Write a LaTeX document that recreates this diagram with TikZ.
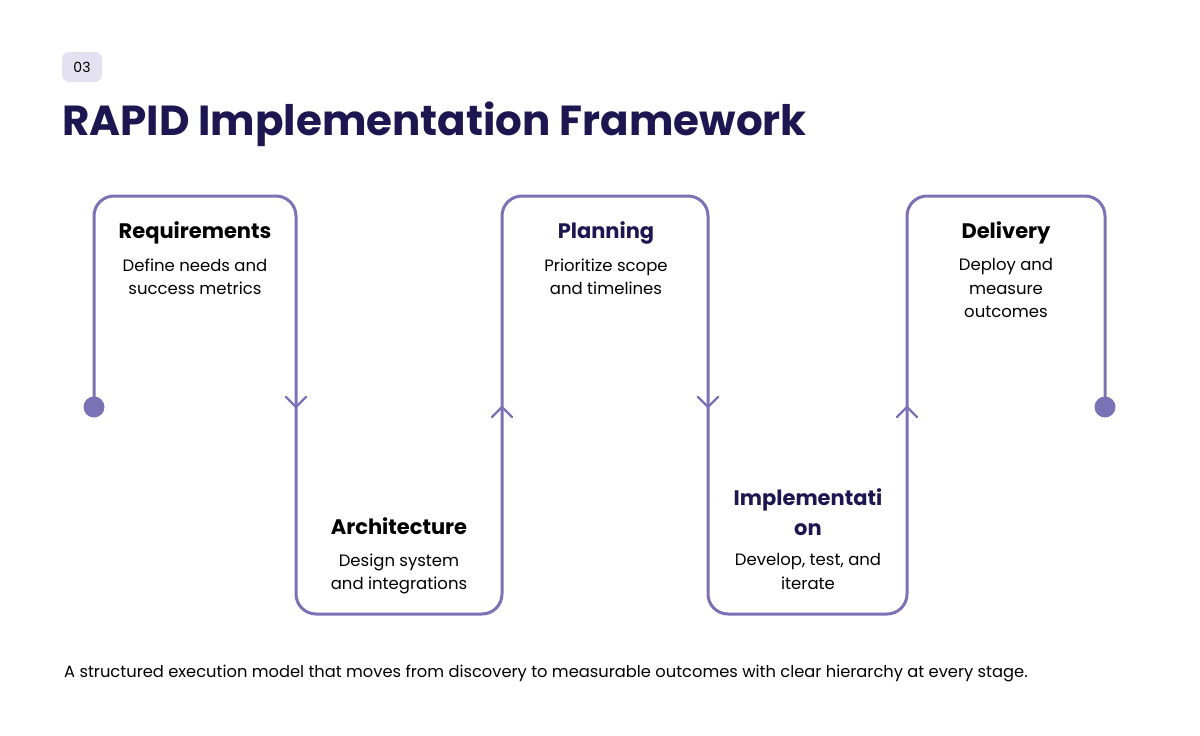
\documentclass[tikz,border=0pt]{standalone}
\usepackage{fontspec}
\setmainfont{Poppins}
\definecolor{line}{HTML}{7B72B5}
\definecolor{navy}{HTML}{1E1650}
\definecolor{badge}{HTML}{E4E2F0}
\begin{document}
\begin{tikzpicture}[x=1pt,y=-1pt,
  ttl/.style={font=\fontsize{21}{30}\selectfont\bfseries,align=center,anchor=base},
  dsc/.style={font=\fontsize{16.5}{23.5}\selectfont,align=center,anchor=north},
  chev/.style={line,line width=2.2pt,line cap=round,line join=round}]
\useasboundingbox (0,0) rectangle (1200,736);
\node[fill=badge,rounded corners=7pt,minimum width=40pt,minimum height=30pt,font=\fontsize{14}{16}\selectfont] (badge) at (82,67) {03};
\node[anchor=base west,text=navy,font=\fontsize{42}{50}\selectfont\bfseries,inner sep=0] (title) at (62,135) {RAPID Implementation Framework};
\coordinate (s) at (94,407);
\coordinate (e) at (1105,407);
\draw[line,line width=3pt,rounded corners=20pt] (s) -- (94,196) -- (296,196) -- (296,614) -- (502,614) -- (502,196) -- (708,196) -- (708,614) -- (907,614) -- (907,196) -- (1105,196) -- (e);
\fill[line] (s) circle (10.5);
\fill[line] (e) circle (10.5);
\foreach \x/\d in {296/1,502/-1,708/1,907/-1}{
  \draw[chev] (\x-10,407-\d*10) -- (\x,407) -- (\x+10,407-\d*10);}
\node[ttl] (t1) at (195,238) {Requirements};
\node[dsc] (d1) at (195,255) {Define needs and\\success metrics};
\node[ttl] (t2) at (399,534) {Architecture};
\node[dsc] (d2) at (399,550) {Design system\\and integrations};
\node[ttl,text=navy] (t3) at (606,238) {Planning};
\node[dsc] (d3) at (606,255) {Prioritize scope\\and timelines};
\node[ttl,text=navy] (t4) at (808,535) {Implementati\\on};
\node[dsc] (d4) at (808,550) {Develop, test, and\\iterate};
\node[ttl] (t5) at (1006,238) {Delivery};
\node[dsc] (d5) at (1006,255) {Deploy and\\measure\\outcomes};
\node[anchor=base west,inner sep=0,font=\fontsize{16.3}{20}\selectfont] (foot) at (64,677) {A structured execution model that moves from discovery to measurable outcomes with clear hierarchy at every stage.};
\end{tikzpicture}
\end{document}
